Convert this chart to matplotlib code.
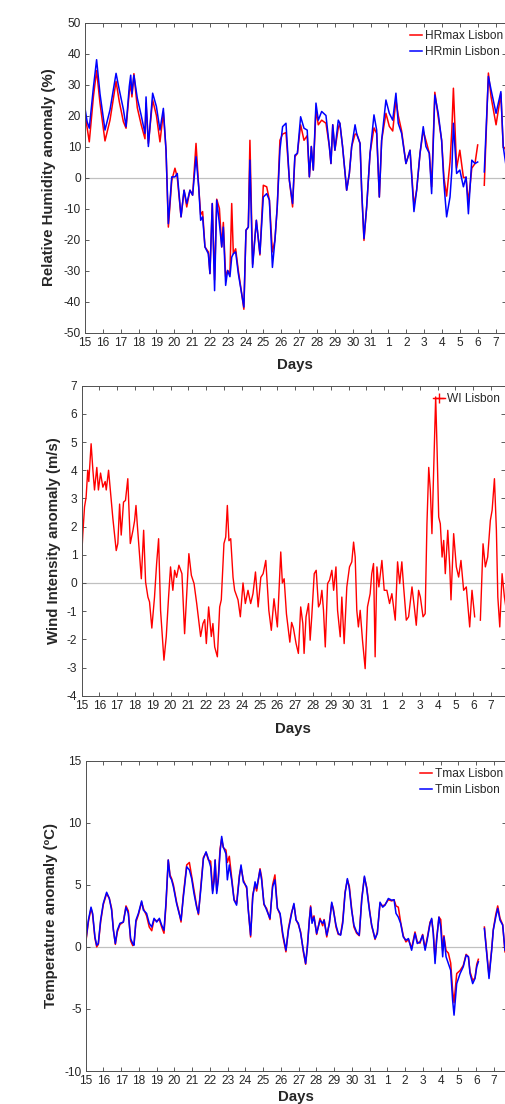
import numpy as np
import matplotlib
matplotlib.use("Agg")
import matplotlib.pyplot as plt
from matplotlib.lines import Line2D

plt.rcParams['font.family'] = ['Liberation Sans', 'DejaVu Sans']
plt.rcParams['axes.unicode_minus'] = False

nan = np.nan

# ---------------- data ----------------
day_labels = ['15', '16', '17', '18', '19', '20', '21', '22', '23', '24', '25', '26',
              '27', '28', '29', '30', '31', '1', '2', '3', '4', '5', '6', '7']

# Relative humidity anomaly (%)
hr_days = [0.00, 0.12, 0.24, 0.47, 0.65, 0.84, 1.12, 1.40, 1.74, 1.92,
           2.15, 2.30, 2.48, 2.56, 2.63, 2.74, 2.93, 3.15, 3.36, 3.42,
           3.55, 3.79, 4.00, 4.20, 4.39, 4.54, 4.67, 4.86, 5.04, 5.17,
           5.38, 5.55, 5.70, 5.88, 6.03, 6.22, 6.37, 6.48, 6.59, 6.72,
           6.91, 7.00, 7.13, 7.26, 7.38, 7.53, 7.66, 7.75, 7.88, 7.99,
           8.12, 8.22, 8.31, 8.44, 8.59, 8.78, 8.90, 9.02, 9.15, 9.24,
           9.39, 9.60, 9.80, 9.99, 10.18, 10.33, 10.50, 10.64, 10.77, 10.92,
           11.07, 11.26, 11.45, 11.63, 11.76, 11.90, 12.08, 12.27, 12.45, 12.57,
           12.68, 12.79, 12.94, 13.07, 13.26, 13.50, 13.69, 13.78, 13.88, 14.00,
           14.19, 14.28, 14.43, 14.66, 14.81, 14.94, 15.13, 15.22, 15.41, 15.50,
           15.63, 15.78, 15.97, 16.19, 16.34, 16.49, 16.62, 16.86, 17.05, 17.24,
           17.42, 17.55, 17.74, 17.98, 18.21, 18.43, 18.58, 18.77, 18.95, 19.10,
           19.29, 19.42, 19.60, 19.79, 19.98, 20.11, 20.26, 20.45, 20.55, 20.64,
           20.82, 21.00, 21.20, 21.35, 21.48, 21.67, 21.85, 22.00, 22.18, 22.37,
           22.60, 22.75, 23.03, 23.30, 23.43, 23.57]
hr_min = [22.3, 18.0, 15.9, 29.0, 38.0, 27.0, 15.3, 21.8, 33.6, 28.3,
          22.0, 16.4, 29.3, 33.0, 27.0, 33.0, 25.6, 20.0, 14.2, 26.0,
          10.0, 27.2, 22.9, 15.3, 22.3, 8.8, -14.9, 0.2, 0.2, 1.3,
          -12.7, -4.1, -8.4, -4.1, -5.7, 6.7, -3.0, -13.8, -12.7, -22.4,
          -24.6, -31.0, -8.4, -36.5, -7.3, -14.9, -22.4, -16.0, -34.8, -30.0,
          -32.0, -25.7, -24.6, -24.0, -31.0, -37.5, -41.8, -17.0, -16.0, 5.6,
          -29.0, -13.8, -24.6, -6.3, -5.2, -7.3, -29.0, -20.3, -9.5, 8.8,
          16.4, 17.5, -0.9, -8.4, 7.2, 7.8, 19.6, 15.9, 15.3, 0.2,
          10.0, 2.4, 24.0, 18.5, 21.3, 20.0, 10.0, 4.5, 17.0, 8.8,
          18.5, 17.5, 10.0, -4.1, 1.3, 10.0, 17.0, 14.2, 11.0, -4.1,
          -19.7, -9.5, 7.8, 20.2, 15.3, -6.3, 12.0, 25.0, 20.7, 18.5,
          27.2, 17.5, 14.2, 4.5, 8.8, -11.0, -4.1, 7.8, 16.4, 10.0,
          7.8, -5.2, 26.6, 20.7, 12.0, -2.0, -12.7, -6.3, 2.0, 17.5,
          1.3, 2.4, -3.0, 0.2, -11.7, 5.6, 4.5, 5.0, nan, 1.8,
          32.6, 28.3, 20.7, 27.7, 10.0, 4.5]
hr_max = [20.5, 16.0, 11.5, 26.0, 34.5, 24.0, 11.8, 18.5, 31.0, 24.5,
          18.0, 15.9, 27.5, 30.0, 26.0, 33.5, 22.5, 17.0, 12.5, 24.0,
          11.0, 25.0, 20.0, 11.5, 21.0, 8.8, -16.0, -1.0, 3.0, 0.0,
          -12.7, -4.1, -9.5, -4.1, -5.7, 11.0, -3.0, -12.0, -11.0, -22.4,
          -24.0, -31.0, -8.4, -33.0, -7.0, -10.0, -22.4, -14.5, -32.0, -30.0,
          -31.0, -8.4, -24.6, -23.0, -30.0, -37.5, -42.5, -17.0, -16.0, 12.0,
          -28.0, -13.8, -25.0, -2.5, -3.0, -7.3, -24.0, -20.3, -9.5, 12.0,
          14.0, 14.5, -0.9, -9.5, 6.7, 7.8, 17.0, 12.0, 13.5, 0.2,
          10.0, 2.4, 21.8, 17.0, 18.5, 17.5, 10.0, 4.5, 17.0, 8.8,
          16.0, 17.5, 10.0, -4.1, 1.3, 10.0, 14.0, 14.0, 11.0, -4.1,
          -20.3, -9.5, 7.8, 16.0, 14.2, -6.3, 12.0, 20.7, 16.5, 15.0,
          25.0, 20.0, 15.0, 4.5, 8.8, -9.0, -4.1, 7.8, 15.0, 12.0,
          7.8, -3.0, 27.5, 19.5, 12.0, 0.0, -6.0, 5.0, 15.0, 28.8,
          3.0, 8.8, 0.0, 0.0, -8.0, 3.0, 4.5, 10.5, nan, -2.5,
          33.7, 26.0, 17.0, 27.0, 10.0, 9.0]

# Wind intensity anomaly (m/s)
wi_days = [0.00, 0.07, 0.17, 0.26, 0.35, 0.41, 0.54, 0.64, 0.73, 0.86,
           0.95, 1.07, 1.20, 1.33, 1.39, 1.52, 1.63, 1.76, 1.95, 2.04,
           2.14, 2.23, 2.36, 2.47, 2.60, 2.74, 2.89, 2.98, 3.06, 3.13,
           3.27, 3.36, 3.49, 3.60, 3.73, 3.82, 3.95, 4.10, 4.22, 4.33,
           4.44, 4.63, 4.76, 4.89, 5.00, 5.13, 5.23, 5.34, 5.47, 5.64,
           5.79, 6.03, 6.17, 6.32, 6.47, 6.69, 6.82, 6.92, 7.01, 7.14,
           7.29, 7.38, 7.48, 7.63, 7.76, 7.85, 8.00, 8.10, 8.19, 8.28,
           8.38, 8.51, 8.60, 8.79, 8.92, 9.07, 9.20, 9.35, 9.50, 9.63,
           9.77, 9.92, 10.07, 10.20, 10.35, 10.52, 10.66, 10.81, 11.00, 11.10,
           11.19, 11.28, 11.38, 11.51, 11.70, 11.80, 11.90, 12.05, 12.18, 12.31,
           12.43, 12.50, 12.61, 12.75, 12.84, 12.93, 13.07, 13.18, 13.31, 13.40,
           13.50, 13.59, 13.69, 13.82, 13.93, 14.06, 14.16, 14.29, 14.38, 14.53,
           14.62, 14.75, 14.90, 15.05, 15.18, 15.28, 15.37, 15.46, 15.55, 15.65,
           15.78, 15.93, 16.06, 16.21, 16.30, 16.40, 16.49, 16.59, 16.70, 16.87,
           17.00, 17.15, 17.30, 17.43, 17.62, 17.75, 17.87, 17.99, 18.09, 18.24,
           18.37, 18.56, 18.69, 18.80, 18.93, 19.03, 19.18, 19.30, 19.40, 19.50,
           19.59, 19.68, 19.78, 19.89, 19.97, 20.06, 20.15, 20.25, 20.34, 20.43,
           20.57, 20.68, 20.75, 20.90, 21.05, 21.18, 21.31, 21.46, 21.61, 21.80,
           21.93, 22.08, 22.24, 22.40, 22.55, 22.68, 22.81, 22.96, 23.06, 23.19,
           23.30, 23.38, 23.49, 23.62, 23.75, 23.86]
wi_vals = [0.8, 1.7, 2.7, 3.05, 4.0, 3.6, 4.94, 4.0, 3.3, 4.1,
           3.3, 3.9, 3.4, 3.6, 3.3, 4.0, 3.2, 2.3, 1.15, 1.4,
           2.8, 1.7, 2.87, 2.93, 3.7, 1.4, 1.87, 2.2, 2.75, 2.1,
           0.9, 0.15, 1.87, 0.03, -0.5, -0.67, -1.6, -0.5, 0.7, 1.57,
           -0.97, -2.74, -1.9, -0.5, 0.57, -0.26, 0.45, 0.2, 0.63, 0.33,
           -1.8, 1.04, 0.27, -0.02, -0.73, -1.9, -1.44, -1.3, -2.15, -0.85,
           -1.9, -1.44, -2.27, -2.62, -0.85, -0.6, 1.4, 1.63, 2.75, 1.5,
           1.57, 0.2, -0.26, -0.6, -1.2, 0.0, -0.73, -0.26, -0.73, -0.38,
           0.39, -0.85, 0.2, 0.33, 0.8, -0.97, -1.68, -0.56, -1.56, -0.14,
           1.1, 0.0, 0.15, -1.1, -2.1, -1.4, -1.6, -2.15, -2.5, -0.85,
           -1.44, -2.5, -1.2, -0.73, -2.03, -1.2, 0.33, 0.45, -0.85, -0.73,
           -0.26, -0.97, -2.27, -0.02, 0.1, 0.45, -0.26, 0.57, -0.97, -1.91,
           -0.5, -2.15, -0.14, 0.57, 0.75, 1.45, 0.92, -0.97, -1.56, -0.97,
           -2.03, -3.04, -0.85, -0.38, 0.33, 0.69, -2.62, 0.57, -0.14, 0.8,
           -0.26, -0.26, -0.73, -0.38, -1.32, 0.75, -0.02, 0.75, -0.14, -1.32,
           -1.2, -0.14, -0.85, -1.5, -0.26, -0.5, -1.2, -1.09, 2.1, 4.1,
           3.3, 1.75, 4.1, 6.6, 4.7, 2.34, 2.1, 0.92, 1.51, 0.33,
           1.87, 0.57, -0.6, 1.75, 0.57, 0.21, 0.8, -0.26, -0.14, -1.56,
           -0.26, -1.2, nan, -1.32, 1.39, 0.57, 0.92, 2.22, 2.58, 3.7,
           1.87, -0.5, -1.56, 0.33, -0.5, -0.97]

# Temperature anomaly (degC)
t_days = [0.00, 0.15, 0.30, 0.39, 0.52, 0.62, 0.71, 0.84, 0.99, 1.18,
          1.33, 1.46, 1.56, 1.67, 1.78, 1.93, 2.12, 2.27, 2.40, 2.53,
          2.65, 2.72, 2.83, 2.97, 3.15, 3.25, 3.43, 3.58, 3.72, 3.85,
          4.00, 4.15, 4.28, 4.41, 4.52, 4.65, 4.75, 4.84, 4.94, 5.12,
          5.26, 5.37, 5.50, 5.69, 5.84, 5.97, 6.10, 6.25, 6.35, 6.48,
          6.63, 6.78, 6.91, 7.04, 7.15, 7.23, 7.29, 7.38, 7.47, 7.57,
          7.66, 7.75, 7.90, 7.98, 8.09, 8.22, 8.36, 8.50, 8.66, 8.75,
          8.88, 9.07, 9.16, 9.29, 9.41, 9.54, 9.63, 9.82, 9.91, 10.04,
          10.19, 10.38, 10.53, 10.66, 10.80, 10.95, 11.10, 11.28, 11.42, 11.60,
          11.73, 11.85, 11.98, 12.11, 12.26, 12.39, 12.49, 12.60, 12.67, 12.75,
          12.86, 13.01, 13.20, 13.35, 13.43, 13.58, 13.73, 13.86, 13.95, 14.10,
          14.23, 14.36, 14.48, 14.61, 14.74, 14.85, 14.98, 15.11, 15.26, 15.41,
          15.55, 15.70, 15.83, 15.98, 16.11, 16.30, 16.43, 16.58, 16.73, 16.86,
          17.05, 17.24, 17.37, 17.48, 17.61, 17.74, 17.89, 18.04, 18.18, 18.36,
          18.55, 18.68, 18.83, 18.98, 19.12, 19.25, 19.40, 19.49, 19.58, 19.68,
          19.77, 19.90, 20.00, 20.11, 20.18, 20.30, 20.43, 20.56, 20.67, 20.75,
          20.90, 21.09, 21.27, 21.43, 21.56, 21.65, 21.80, 21.93, 22.03, 22.12,
          22.30, 22.46, 22.59, 22.72, 22.87, 22.96, 23.10, 23.21, 23.34, 23.49,
          23.62]
t_min = [0.4, 2.15, 3.2, 2.7, 0.8, 0.13, 0.27, 2.15, 3.5, 4.4,
         3.9, 2.96, 1.34, 0.27, 1.34, 1.9, 2.0, 3.2, 2.7, 0.67,
         0.27, 0.13, 2.15, 2.7, 3.7, 2.96, 2.7, 1.9, 1.6, 2.3,
         2.0, 2.3, 1.75, 1.34, 3.5, 7.0, 5.65, 5.4, 4.84, 3.5,
         2.7, 2.15, 4.0, 6.45, 6.2, 5.5, 4.3, 3.2, 2.7, 4.57,
         7.1, 7.66, 7.1, 6.45, 4.3, 5.24, 7.0, 4.3, 5.4, 7.66,
         8.9, 8.06, 7.5, 5.4, 6.6, 5.4, 3.76, 3.36, 5.65, 6.6,
         5.24, 4.84, 2.96, 0.94, 4.0, 5.24, 4.7, 6.2, 5.4, 3.5,
         2.96, 2.3, 4.84, 5.4, 3.1, 2.7, 1.08, -0.27, 1.34, 2.7,
         3.5, 2.15, 1.9, 1.08, -0.27, -1.34, 0.0, 2.15, 3.2, 1.9,
         2.4, 1.08, 2.15, 1.9, 2.15, 0.94, 1.9, 3.6, 2.96, 1.75,
         1.08, 0.94, 1.9, 4.3, 5.5, 4.7, 2.96, 1.75, 1.2, 0.94,
         3.76, 5.7, 4.7, 2.96, 1.75, 0.67, 1.08, 3.6, 3.2, 3.36,
         3.9, 3.76, 3.8, 2.7, 2.4, 1.9, 0.8, 0.54, 0.67, -0.27,
         1.08, 0.27, 0.4, 0.94, -0.27, 0.67, 1.9, 2.3, 1.08, -1.34,
         0.54, 2.4, 1.6, -0.8, 0.8, -0.8, -1.34, -1.88, -4.3, -5.5,
         -2.96, -2.15, -1.6, -0.67, -0.8, -2.15, -2.96, -2.55, -1.6, -1.2,
         nan, 1.48, -0.54, -2.55, -0.27, 1.34, 2.4, 3.1, 2.15, 1.75,
         -0.27]
t_max = [0.3, 2.0, 3.1, 2.6, 0.7, 0.0, 0.2, 2.0, 3.4, 4.3,
         3.9, 3.1, 1.4, 0.2, 1.2, 1.8, 2.0, 3.3, 2.9, 0.5,
         0.1, 0.2, 2.0, 2.6, 3.6, 3.1, 2.5, 1.6, 1.3, 2.2,
         2.1, 2.2, 1.6, 1.1, 3.3, 7.0, 5.8, 5.5, 5.0, 3.6,
         2.8, 2.0, 4.2, 6.6, 6.8, 5.7, 4.6, 3.3, 2.6, 4.8,
         7.2, 7.6, 7.0, 6.9, 4.5, 5.6, 7.0, 4.5, 5.6, 7.9,
         8.7, 8.0, 7.8, 6.8, 7.3, 5.6, 3.8, 3.5, 5.8, 6.4,
         5.4, 4.7, 3.0, 0.8, 4.2, 5.0, 4.5, 6.3, 5.6, 3.4,
         3.1, 2.2, 5.0, 5.8, 3.1, 2.6, 0.9, -0.4, 1.5, 2.8,
         3.4, 2.2, 1.8, 1.2, -0.4, -1.4, 0.1, 2.2, 3.3, 2.2,
         2.5, 1.0, 2.3, 1.7, 2.2, 0.8, 2.0, 3.5, 3.1, 1.6,
         1.0, 1.0, 2.1, 4.4, 5.4, 4.9, 3.1, 1.6, 1.1, 0.9,
         3.9, 5.6, 4.8, 3.1, 1.7, 0.6, 1.2, 3.5, 3.3, 3.4,
         3.8, 3.7, 3.8, 3.3, 3.2, 2.0, 0.9, 0.4, 0.6, -0.1,
         1.2, 0.4, 0.3, 1.0, -0.1, 0.8, 2.0, 2.2, 1.2, -1.0,
         0.7, 2.4, 2.2, -0.3, 0.9, -0.3, -0.5, -1.3, -3.5, -4.5,
         -2.15, -1.9, -1.5, -0.6, -0.8, -2.0, -2.7, -2.5, -1.4, -1.0,
         nan, 1.6, -0.4, -2.3, -0.2, 1.4, 2.6, 3.3, 2.3, 1.8,
         -0.4]

# ---------------- figure ----------------
W, H = 506, 1104
fig = plt.figure(figsize=(W / 100, H / 100), dpi=100)

TXT = '#262626'
FS = 8.6
LFS = 10.8


def px_axes(left, top, right, bottom):
    return fig.add_axes([left / W, 1 - bottom / H, (right - left) / W, (bottom - top) / H])


def style(ax, xmax, ylim, yticks, ylabel, ylab_x, xlab_y):
    ax.set_xlim(0, xmax)
    ax.set_ylim(*ylim)
    ax.set_xticks(np.arange(len(day_labels)))
    ax.set_xticklabels(day_labels)
    ax.set_yticks(yticks)
    ax.tick_params(direction='in', length=3, width=0.6, top=True, right=True,
                   labelsize=FS, labelcolor=TXT, color='#404040', pad=3)
    for s in ax.spines.values():
        s.set_color('#505050')
        s.set_linewidth(0.7)
    ax.axhline(0, color='#c0c0c0', lw=0.9, zorder=0.5)
    ax.set_ylabel(ylabel, fontsize=LFS, fontweight='bold', color=TXT)
    ax.yaxis.set_label_coords(ylab_x, 0.5)
    ax.set_xlabel('Days', fontsize=LFS, fontweight='bold', color=TXT)
    ax.xaxis.set_label_coords(0.5, xlab_y)


LEG = dict(frameon=False, fontsize=FS, handlelength=1.0, handletextpad=0.25,
           labelspacing=0.3, borderpad=0.2, borderaxespad=0.0, loc='upper right')

# Panel 1: relative humidity
ax1 = px_axes(85, 22.5, 505.7, 332.5)
ax1.plot(hr_days, hr_max, color='red', lw=1.1, label='HRmax Lisbon')
ax1.plot(hr_days, hr_min, color='blue', lw=1.1, label='HRmin Lisbon')
style(ax1, 23.57, (-50, 50), np.arange(-50, 51, 10),
      'Relative Humidity anomaly (%)', -0.069, -0.082)
leg = ax1.legend(bbox_to_anchor=(1.0, 0.983), **LEG)
for t in leg.get_texts():
    t.set_color(TXT)

# Panel 2: wind intensity
ax2 = px_axes(81.5, 385.7, 505.3, 695.7)
ax2.plot(wi_days, wi_vals, color='red', lw=1.0)
style(ax2, 23.8, (-4, 7), np.arange(-4, 8, 1),
      'Wind Intensity anomaly (m/s)', -0.048, -0.085)
wi_handle = Line2D([], [], color='red', lw=1.0, marker='+', markersize=7, markeredgewidth=1.0)
leg = ax2.legend([wi_handle], ['WI Lisbon'], bbox_to_anchor=(0.994, 0.983), **LEG)
for t in leg.get_texts():
    t.set_color(TXT)

# Panel 3: temperature
ax3 = px_axes(85.7, 760.7, 505.7, 1071)
ax3.plot(t_days, t_max, color='red', lw=1.1, label='Tmax Lisbon')
ax3.plot(t_days, t_min, color='blue', lw=1.1, label='Tmin Lisbon')
style(ax3, 23.66, (-10, 15), np.arange(-10, 16, 5),
      'Temperature anomaly (ºC)', -0.067, -0.062)
leg = ax3.legend(bbox_to_anchor=(1.0, 0.983), **LEG)
for t in leg.get_texts():
    t.set_color(TXT)

fig.savefig('out.png', dpi=100)
